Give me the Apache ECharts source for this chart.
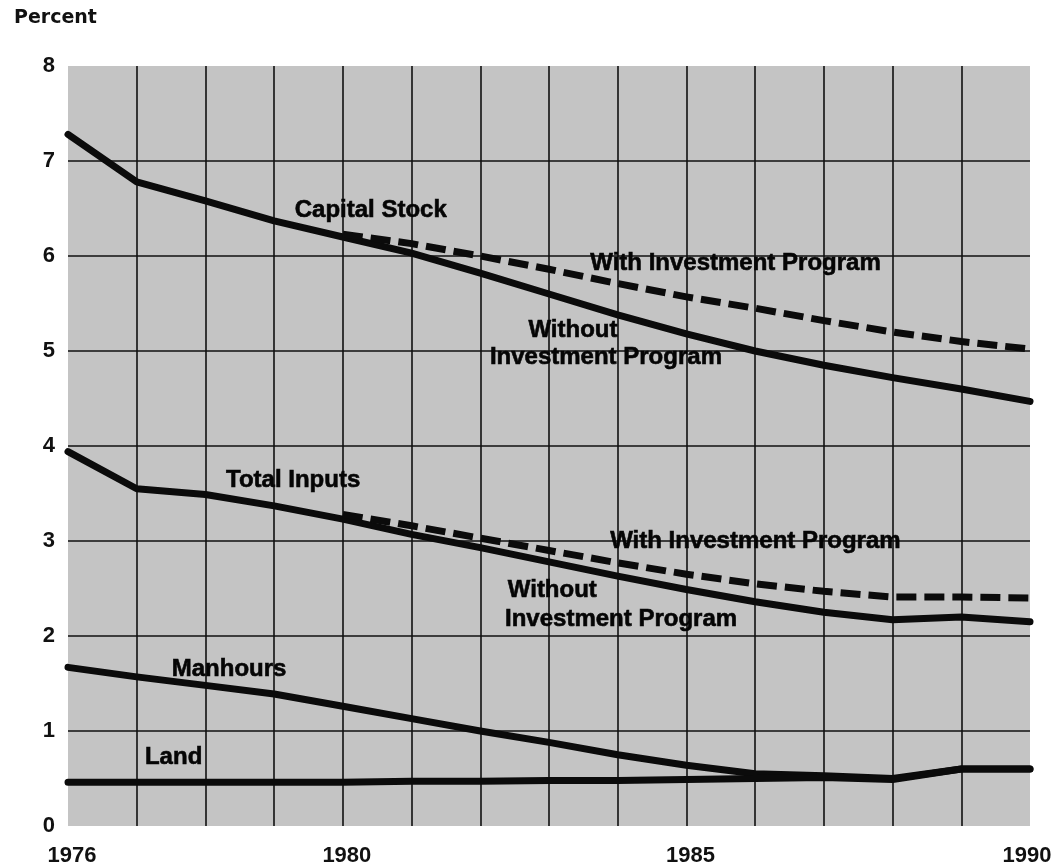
<!DOCTYPE html>
<html>
<head>
<meta charset="utf-8">
<script src="https://cdn.jsdelivr.net/npm/echarts@6/dist/echarts.min.js"></script>
<style>
html,body{margin:0;padding:0;background:#fff;}
#chart{width:1058px;height:865px;}
</style>
</head>
<body>
<div id="chart"></div>
<script>
const years = [1976,1977,1978,1979,1980,1981,1982,1983,1984,1985,1986,1987,1988,1989,1990];
const capitalWithout = [7.28,6.78,6.58,6.37,6.20,6.03,5.82,5.60,5.38,5.18,5.00,4.85,4.72,4.60,4.47];
const capitalWith    = [null,null,null,null,6.23,6.13,6.00,5.86,5.71,5.57,5.45,5.32,5.20,5.10,5.02];
const totalWithout   = [3.94,3.55,3.49,3.37,3.23,3.07,2.93,2.78,2.63,2.49,2.36,2.25,2.17,2.20,2.15];
const totalWith      = [null,null,null,null,3.28,3.16,3.03,2.90,2.77,2.65,2.55,2.47,2.41,2.41,2.40];
const manhours       = [1.67,1.57,1.48,1.39,1.26,1.13,1.00,0.88,0.75,0.64,0.55,0.53,0.50,0.60,0.60];
const land           = [0.46,0.46,0.46,0.46,0.46,0.47,0.47,0.48,0.48,0.49,0.50,0.51,0.49,0.60,0.60];
const xTickLabels = [1976, 1980, 1985, 1990];
const yTicks = [0,1,2,3,4,5,6,7,8];
// annotation texts with anchor positions in data units [year, percent]
const annotationTexts = ['Capital Stock','With Investment Program','Without','Investment Program','Total Inputs','With Investment Program','Without','Investment Program','Manhours','Land'];
const annotationAnchors = [[1979.30,6.48],[1983.60,5.92],[1982.70,5.22],[1982.14,4.93],[1978.30,3.64],[1983.89,3.00],[1982.40,2.48],[1982.36,2.18],[1977.51,1.65],[1977.12,0.72]];

const pair = arr => years.map((y,i)=>[y,arr[i]]);
const solid = {color:'#0b0b0b', width:7, cap:'round', join:'round'};
const dashed = {color:'#0b0b0b', width:7, type:[20,8], cap:'butt', join:'round'};
function line(name, arr, style){
  return {name, type:'line', data:pair(arr), showSymbol:false, symbol:'none', lineStyle:style, connectNulls:false, silent:true, animation:false, z:5};
}
const tickFont = {fontFamily:'Liberation Sans', fontWeight:'bold', fontSize:22, color:'#111'};

const chart = echarts.init(document.getElementById('chart'), null, {renderer:'canvas'});
chart.setOption({
  animation:false,
  backgroundColor:'#ffffff',
  title:{text:'Percent', left:9, top:4, textStyle:{fontFamily:'DejaVu Sans', fontWeight:'bold', fontSize:19, color:'#111'}},
  grid:{left:68, right:28, top:66, bottom:39, show:true, backgroundColor:'#c4c4c4', borderWidth:0,
    containLabel:false, outerBoundsMode:'none'},
  xAxis:{type:'value', min:1976, max:1990, interval:1,
    axisLine:{show:false}, axisTick:{show:false},
    splitLine:{show:true, showMinLine:false, showMaxLine:false, lineStyle:{color:'#111', width:1.6}},
    axisLabel:Object.assign({margin:19, hideOverlap:false,
      rich:{n:Object.assign({}, tickFont, {padding:[0,0,0,8]}), e:Object.assign({}, tickFont, {padding:[0,6,0,0]})},
      formatter: v => xTickLabels.indexOf(v) < 0 ? '' : (v === 1990 ? '{e|' + v + '}' : '{n|' + v + '}')}, tickFont)},
  yAxis:{type:'value', min:0, max:8, interval:1,
    axisLine:{show:false}, axisTick:{show:false},
    splitLine:{show:true, showMinLine:false, showMaxLine:false, lineStyle:{color:'#111', width:1.6}},
    axisLabel:Object.assign({margin:13, verticalAlign:'middle', padding:[0,0,8,0],
      formatter: v => yTicks.indexOf(v) >= 0 ? String(v) : ''}, tickFont)},
  series:[
    line('Capital Stock - Without Investment Program', capitalWithout, solid),
    line('Capital Stock - With Investment Program', capitalWith, dashed),
    line('Total Inputs - Without Investment Program', totalWithout, solid),
    line('Total Inputs - With Investment Program', totalWith, dashed),
    line('Manhours', manhours, solid),
    line('Land', land, solid)
  ]
});

const graphics = annotationTexts.map((t,i)=>{
  const p = chart.convertToPixel({gridIndex:0}, annotationAnchors[i]);
  return {type:'text', x:p[0], y:p[1], z:20, silent:true,
    style:{text:t, fill:'#050505', font:'bold 24px "Liberation Sans"', textAlign:'left', textVerticalAlign:'middle', stroke:'#050505', lineWidth:0.6}};
});
chart.setOption({graphic:graphics});
</script>
</body>
</html>
